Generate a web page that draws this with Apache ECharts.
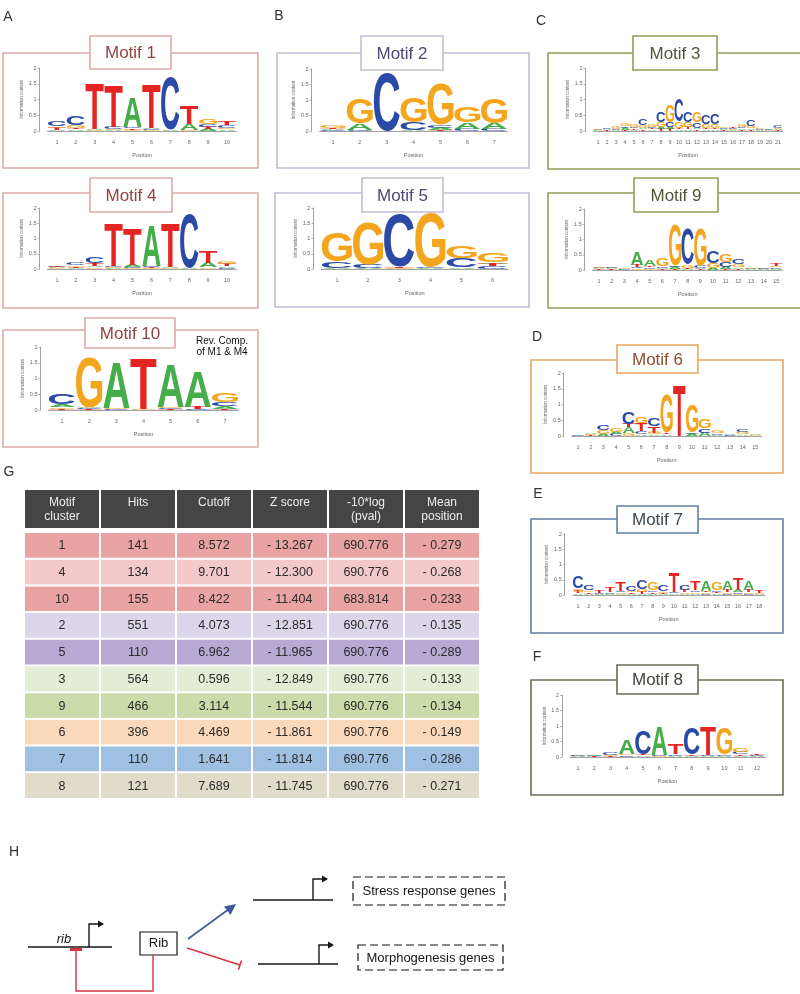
<!DOCTYPE html>
<html>
<head>
<meta charset="utf-8">
<script src="https://cdn.jsdelivr.net/npm/echarts@6/dist/echarts.min.js"></script>
<style>
html, body { margin: 0; padding: 0; background: #fff; }
#chart { width: 800px; height: 994px; }
</style>
</head>
<body>
<div id="chart"></div>
<script>
const LETTERS = ['A', 'C', 'G', 'T']
const LETTER_COLORS = { A: '#45ae4a', C: '#2b49a6', G: '#f4a51e', T: '#e42521' }

// sequence logo columns, bottom -> top, [letter, bits]
const motif1 = [
  [['A', 0.04], ['T', 0.06], ['G', 0.05], ['C', 0.15]],
  [['A', 0.05], ['T', 0.05], ['G', 0.08], ['C', 0.3]],
  [['G', 0.03], ['A', 0.04], ['T', 1.45]],
  [['A', 0.03], ['G', 0.03], ['C', 0.06], ['T', 1.3]],
  [['G', 0.03], ['T', 0.05], ['C', 0.04], ['A', 0.95]],
  [['G', 0.03], ['C', 0.03], ['A', 0.03], ['T', 1.38]],
  [['A', 0.05], ['C', 1.65]],
  [['G', 0.03], ['A', 0.2], ['T', 0.58]],
  [['A', 0.06], ['T', 0.06], ['C', 0.1], ['G', 0.16]],
  [['A', 0.05], ['G', 0.05], ['C', 0.08], ['T', 0.12]]
]
const motif4 = [
  [['G', 0.02], ['A', 0.03], ['C', 0.03], ['T', 0.03]],
  [['A', 0.03], ['T', 0.05], ['G', 0.04], ['C', 0.1]],
  [['G', 0.05], ['A', 0.04], ['T', 0.1], ['C', 0.22]],
  [['A', 0.03], ['G', 0.03], ['C', 0.04], ['T', 1.42]],
  [['G', 0.03], ['C', 0.03], ['A', 0.06], ['T', 1.2]],
  [['G', 0.03], ['T', 0.03], ['C', 0.04], ['A', 1.3]],
  [['G', 0.03], ['A', 0.04], ['T', 1.45]],
  [['A', 0.04], ['C', 1.78]],
  [['G', 0.05], ['A', 0.15], ['T', 0.38]],
  [['C', 0.04], ['A', 0.05], ['T', 0.06], ['G', 0.1]]
]
const motif10 = [
  [['T', 0.04], ['G', 0.05], ['A', 0.08], ['C', 0.34]],
  [['T', 0.02], ['C', 0.03], ['A', 0.03], ['G', 1.57]],
  [['C', 0.03], ['G', 0.04], ['A', 1.46]],
  [['G', 0.03], ['T', 1.6]],
  [['T', 0.02], ['C', 0.03], ['G', 0.04], ['A', 1.35]],
  [['C', 0.03], ['T', 0.06], ['A', 1.12]],
  [['T', 0.04], ['A', 0.08], ['C', 0.12], ['G', 0.3]]
]
const motif2 = [
  [['C', 0.03], ['A', 0.04], ['T', 0.04], ['G', 0.06]],
  [['C', 0.04], ['A', 0.2], ['G', 0.82]],
  [['C', 1.85]],
  [['A', 0.04], ['C', 0.25], ['G', 0.82]],
  [['T', 0.03], ['A', 0.08], ['C', 0.1], ['G', 1.3]],
  [['C', 0.08], ['A', 0.2], ['G', 0.52]],
  [['C', 0.06], ['A', 0.2], ['G', 0.82]]
]
const motif5 = [
  [['A', 0.03], ['C', 0.22], ['G', 0.95]],
  [['A', 0.03], ['C', 0.13], ['G', 1.38]],
  [['G', 0.03], ['T', 0.03], ['C', 1.72]],
  [['A', 0.03], ['C', 0.03], ['G', 1.78]],
  [['A', 0.05], ['C', 0.3], ['G', 0.37]],
  [['C', 0.1], ['T', 0.08], ['A', 0.04], ['G', 0.3]]
]
const motif3 = [
  [['A', 0.02], ['C', 0.02], ['G', 0.03]],
  [['T', 0.02], ['A', 0.03], ['C', 0.05]],
  [['A', 0.03], ['C', 0.03], ['G', 0.06]],
  [['T', 0.04], ['A', 0.06], ['C', 0.05], ['G', 0.1]],
  [['A', 0.04], ['T', 0.04], ['C', 0.04], ['G', 0.06]],
  [['T', 0.05], ['A', 0.05], ['G', 0.08], ['C', 0.2]],
  [['A', 0.05], ['T', 0.04], ['C', 0.05], ['G', 0.08]],
  [['T', 0.06], ['A', 0.07], ['G', 0.15], ['C', 0.34]],
  [['T', 0.06], ['A', 0.06], ['C', 0.15], ['G', 0.52]],
  [['A', 0.05], ['T', 0.04], ['G', 0.22], ['C', 0.72]],
  [['A', 0.05], ['T', 0.07], ['G', 0.15], ['C', 0.35]],
  [['T', 0.05], ['A', 0.05], ['C', 0.18], ['G', 0.32]],
  [['A', 0.05], ['T', 0.05], ['G', 0.12], ['C', 0.3]],
  [['A', 0.05], ['T', 0.04], ['G', 0.12], ['C', 0.32]],
  [['T', 0.03], ['A', 0.04], ['C', 0.04], ['G', 0.05]],
  [['A', 0.02], ['G', 0.03], ['C', 0.04], ['T', 0.03]],
  [['T', 0.03], ['A', 0.05], ['C', 0.05], ['G', 0.07]],
  [['T', 0.04], ['A', 0.05], ['G', 0.08], ['C', 0.2]],
  [['A', 0.03], ['C', 0.04], ['G', 0.05]],
  [['G', 0.02], ['C', 0.02], ['A', 0.02]],
  [['T', 0.02], ['A', 0.03], ['G', 0.04], ['C', 0.06]]
]
const motif9 = [
  [['T', 0.02], ['A', 0.03], ['C', 0.03], ['G', 0.03]],
  [['T', 0.02], ['A', 0.03], ['G', 0.03], ['C', 0.04]],
  [['A', 0.01], ['C', 0.02], ['G', 0.02]],
  [['G', 0.05], ['C', 0.05], ['T', 0.08], ['A', 0.42]],
  [['G', 0.04], ['C', 0.05], ['T', 0.05], ['A', 0.2]],
  [['T', 0.03], ['A', 0.05], ['C', 0.06], ['G', 0.24]],
  [['T', 0.03], ['A', 0.06], ['C', 0.06], ['G', 1.32]],
  [['A', 0.04], ['T', 0.04], ['G', 0.1], ['C', 1.15]],
  [['T', 0.03], ['A', 0.04], ['C', 0.08], ['G', 1.2]],
  [['A', 0.06], ['G', 0.15], ['C', 0.38]],
  [['T', 0.04], ['A', 0.06], ['C', 0.15], ['G', 0.27]],
  [['T', 0.04], ['A', 0.05], ['G', 0.1], ['C', 0.15]],
  [['A', 0.02], ['C', 0.02], ['G', 0.03]],
  [['A', 0.02], ['G', 0.02], ['C', 0.03]],
  [['A', 0.04], ['C', 0.05], ['G', 0.04], ['T', 0.08]]
]
const motif6 = [
  [['A', 0.01], ['C', 0.02]],
  [['T', 0.02], ['G', 0.03], ['A', 0.03]],
  [['A', 0.06], ['G', 0.12], ['C', 0.15]],
  [['C', 0.06], ['A', 0.08], ['G', 0.12]],
  [['G', 0.08], ['A', 0.2], ['T', 0.1], ['C', 0.38]],
  [['A', 0.05], ['C', 0.1], ['T', 0.25], ['G', 0.22]],
  [['A', 0.05], ['G', 0.06], ['T', 0.2], ['C', 0.25]],
  [['A', 0.05], ['T', 0.05], ['G', 1.22]],
  [['T', 1.62]],
  [['A', 0.06], ['C', 0.04], ['G', 0.88]],
  [['A', 0.1], ['C', 0.14], ['G', 0.28]],
  [['A', 0.04], ['C', 0.05], ['G', 0.08]],
  [['C', 0.02], ['A', 0.03]],
  [['A', 0.05], ['G', 0.06], ['C', 0.1]],
  [['G', 0.02], ['A', 0.03]]
]
const motif7 = [
  [['A', 0.05], ['T', 0.06], ['G', 0.1], ['C', 0.38]],
  [['A', 0.04], ['T', 0.05], ['G', 0.06], ['C', 0.18]],
  [['A', 0.03], ['C', 0.03], ['T', 0.06]],
  [['A', 0.04], ['C', 0.05], ['T', 0.18]],
  [['G', 0.04], ['A', 0.05], ['C', 0.05], ['T', 0.28]],
  [['A', 0.04], ['T', 0.05], ['G', 0.05], ['C', 0.16]],
  [['A', 0.04], ['T', 0.06], ['G', 0.1], ['C', 0.3]],
  [['A', 0.04], ['T', 0.05], ['C', 0.06], ['G', 0.25]],
  [['A', 0.04], ['T', 0.04], ['G', 0.06], ['C', 0.2]],
  [['A', 0.05], ['C', 0.06], ['T', 0.62]],
  [['A', 0.04], ['G', 0.05], ['T', 0.06], ['C', 0.18]],
  [['A', 0.04], ['G', 0.05], ['C', 0.06], ['T', 0.3]],
  [['C', 0.04], ['G', 0.05], ['T', 0.05], ['A', 0.35]],
  [['A', 0.05], ['T', 0.05], ['C', 0.06], ['G', 0.24]],
  [['C', 0.04], ['G', 0.05], ['T', 0.06], ['A', 0.3]],
  [['G', 0.04], ['C', 0.05], ['A', 0.06], ['T', 0.4]],
  [['C', 0.04], ['G', 0.05], ['T', 0.06], ['A', 0.3]],
  [['A', 0.03], ['G', 0.03], ['T', 0.08]]
]
const motif8 = [
  [['A', 0.02], ['G', 0.02], ['C', 0.03]],
  [['T', 0.02], ['C', 0.02], ['A', 0.03]],
  [['T', 0.03], ['G', 0.04], ['C', 0.06]],
  [['C', 0.05], ['G', 0.05], ['A', 0.45]],
  [['A', 0.05], ['T', 0.04], ['C', 0.78]],
  [['G', 0.04], ['C', 0.04], ['A', 0.9]],
  [['A', 0.04], ['C', 0.05], ['T', 0.35]],
  [['A', 0.04], ['T', 0.04], ['C', 0.85]],
  [['A', 0.04], ['C', 0.03], ['T', 0.9]],
  [['A', 0.04], ['C', 0.04], ['G', 0.85]],
  [['A', 0.04], ['T', 0.05], ['C', 0.08], ['G', 0.12]],
  [['A', 0.03], ['C', 0.03], ['T', 0.05]]
]

// table G
const tableHeader = ['Motif\ncluster', 'Hits', 'Cutoff', 'Z score', '-10*log\n(pval)', 'Mean\nposition']
const clusters = ['1', '4', '10', '2', '5', '3', '9', '6', '7', '8']
const hits = ['141', '134', '155', '551', '110', '564', '466', '396', '110', '121']
const cutoffs = ['8.572', '9.701', '8.422', '4.073', '6.962', '0.596', '3.114', '4.469', '1.641', '7.689']
const zScores = ['- 13.267', '- 12.300', '- 11.404', '- 12.851', '- 11.965', '- 12.849', '- 11.544', '- 11.861', '- 11.814', '- 11.745']
const logPvals = ['690.776', '690.776', '683.814', '690.776', '690.776', '690.776', '690.776', '690.776', '690.776', '690.776']
const meanPos = ['- 0.279', '- 0.268', '- 0.233', '- 0.135', '- 0.289', '- 0.133', '- 0.134', '- 0.149', '- 0.286', '- 0.271']
const rowColors = ['#e9a3a2', '#f3c9c9', '#e9a3a2', '#dcd6ea', '#b6aad4', '#e3edd5', '#c9dca9', '#fcd9bb', '#9fc0e3', '#dfdcc9']

const FONT = '"Liberation Sans", Arial, sans-serif'
const LOGO_FONT = 'bold 100px ' + FONT

// glyph bounds, so that each letter can be stretched into its box
const mctx = document.createElement('canvas').getContext('2d')
mctx.font = LOGO_FONT
mctx.textAlign = 'center'
mctx.textBaseline = 'middle'
const glyph = {}
LETTERS.forEach(function (l) {
  const m = mctx.measureText(l)
  glyph[l] = { l: m.actualBoundingBoxLeft, r: m.actualBoundingBoxRight, a: m.actualBoundingBoxAscent, d: m.actualBoundingBoxDescent }
})

// panel layout: plot area of each logo
const panels = [
  { data: motif1, left: 47.5, top: 68, width: 189, height: 63 },
  { data: motif4, left: 47.5, top: 208, width: 189, height: 61 },
  { data: motif10, left: 48.5, top: 347, width: 190, height: 63 },
  { data: motif2, left: 319.6, top: 69, width: 188, height: 62 },
  { data: motif5, left: 321.4, top: 208, width: 187, height: 61 },
  { data: motif3, left: 593.5, top: 68, width: 189, height: 63 },
  { data: motif9, left: 592.7, top: 209, width: 190, height: 61 },
  { data: motif6, left: 571.7, top: 373, width: 190, height: 63 },
  { data: motif7, left: 572.7, top: 534, width: 192, height: 61 },
  { data: motif8, left: 570, top: 695, width: 195, height: 62 }
]

function stackLogo (cols) {
  const out = []
  cols.forEach(function (col, i) {
    let base = 0
    col.forEach(function (item) {
      out.push([i, base, base + item[1], LETTERS.indexOf(item[0])])
      base += item[1]
    })
  })
  return out
}

function renderLetter (params, api) {
  const letter = LETTERS[api.value(3)]
  const g = glyph[letter]
  const bottom = api.coord([api.value(0), api.value(1)])
  const top = api.coord([api.value(0), api.value(2)])
  const w = api.size([1, 0])[0] * 0.97
  const h = bottom[1] - top[1]
  if (h < 0.2) return null
  const sx = w / (g.l + g.r)
  const sy = h / (g.a + g.d)
  return {
    type: 'text',
    x: bottom[0] - w / 2 + g.l * sx,
    y: top[1] + g.a * sy,
    scaleX: sx,
    scaleY: sy,
    silent: true,
    style: { text: letter, font: LOGO_FONT, fill: LETTER_COLORS[letter], align: 'center', verticalAlign: 'middle' }
  }
}

const axisGrey = '#8a8a8a'
const grids = []
const xAxes = []
const yAxes = []
const series = []

panels.forEach(function (p, i) {
  const cats = p.data.map(function (c, k) { return String(k + 1) })
  grids.push({ left: p.left, top: p.top, width: p.width, height: p.height, outerBoundsMode: 'none' })
  xAxes.push({
    gridIndex: i,
    type: 'category',
    data: cats,
    offset: 4,
    name: 'Position',
    nameLocation: 'middle',
    nameGap: 17,
    nameTextStyle: { fontSize: 5.5, color: '#666', fontFamily: FONT },
    axisLine: { lineStyle: { color: axisGrey, width: 0.8 } },
    axisTick: { alignWithLabel: true, length: 2, lineStyle: { color: axisGrey, width: 0.6 } },
    axisLabel: { interval: 0, fontSize: 5.5, color: '#666', margin: 4, fontFamily: FONT }
  })
  yAxes.push({
    gridIndex: i,
    type: 'value',
    min: 0,
    max: 2,
    interval: 0.5,
    offset: 8,
    name: 'Information content',
    nameLocation: 'middle',
    nameGap: 15,
    nameTextStyle: { fontSize: 4.5, color: '#666', fontFamily: FONT },
    splitLine: { show: false },
    axisLine: { show: true, lineStyle: { color: axisGrey, width: 0.8 } },
    axisTick: { show: true, length: 2, lineStyle: { color: axisGrey, width: 0.6 } },
    axisLabel: { fontSize: 5.5, color: '#666', margin: 3, fontFamily: FONT }
  })
  series.push({
    type: 'custom',
    xAxisIndex: i,
    yAxisIndex: i,
    data: stackLogo(p.data),
    encode: { x: 0, y: [1, 2] },
    renderItem: renderLetter,
    clip: false,
    silent: true
  })
})

// table grids
const hIdx = grids.length
grids.push({ left: 24, top: 490, width: 456, height: 38, outerBoundsMode: 'none' })
grids.push({ left: 24, top: 532, width: 456, height: 267, outerBoundsMode: 'none' })
const colIdx = tableHeader.map(function (t, k) { return k })
xAxes.push({ gridIndex: hIdx, type: 'category', data: colIdx, show: false })
yAxes.push({ gridIndex: hIdx, type: 'category', data: ['h'], show: false })
xAxes.push({ gridIndex: hIdx + 1, type: 'category', data: colIdx, show: false })
yAxes.push({ gridIndex: hIdx + 1, type: 'category', data: clusters.map(function (c, k) { return k }), inverse: true, show: false })

const columns = [clusters, hits, cutoffs, zScores, logPvals, meanPos]
const headerCells = tableHeader.map(function (t, k) { return [k, 0] })
const bodyCells = []
clusters.forEach(function (c, r) {
  columns.forEach(function (col, k) { bodyCells.push([k, r]) })
})

series.push({
  type: 'custom',
  xAxisIndex: hIdx,
  yAxisIndex: hIdx,
  data: headerCells,
  silent: true,
  renderItem: function (params, api) {
    const c = api.coord([api.value(0), api.value(1)])
    const s = api.size([1, 1])
    return {
      type: 'group',
      children: [
        { type: 'rect', shape: { x: c[0] - s[0] / 2 + 1, y: c[1] - s[1] / 2, width: s[0] - 2, height: s[1] }, style: { fill: '#454545' } },
        { type: 'text', x: c[0], y: c[1] - s[1] / 2 + 6, style: { text: tableHeader[api.value(0)], fill: '#ececec', font: '12px ' + FONT, align: 'center', verticalAlign: 'top', lineHeight: 14 } }
      ]
    }
  }
})

series.push({
  type: 'custom',
  xAxisIndex: hIdx + 1,
  yAxisIndex: hIdx + 1,
  data: bodyCells,
  silent: true,
  renderItem: function (params, api) {
    const k = api.value(0)
    const r = api.value(1)
    const c = api.coord([k, r])
    const s = api.size([1, 1])
    return {
      type: 'group',
      children: [
        { type: 'rect', shape: { x: c[0] - s[0] / 2 + 1, y: c[1] - s[1] / 2 + 1, width: s[0] - 2, height: s[1] - 2 }, style: { fill: rowColors[r] } },
        { type: 'text', x: c[0], y: c[1] + 0.5, style: { text: columns[k][r], fill: '#2a2a2a', font: '12.5px ' + FONT, align: 'center', verticalAlign: 'middle' } }
      ]
    }
  }
})

// decorations: panel frames, titles, labels, panel H diagram
const frames = [
  { x: 3, y: 53, w: 255, h: 115, stroke: '#dcaaa9' },
  { x: 3, y: 193, w: 255, h: 115, stroke: '#dcaaa9' },
  { x: 3, y: 330, w: 255, h: 117, stroke: '#dcaaa9' },
  { x: 277, y: 53, w: 252, h: 115, stroke: '#c2bcd6' },
  { x: 275, y: 193, w: 254, h: 114, stroke: '#c2bcd6' },
  { x: 548, y: 53, w: 260, h: 116, stroke: '#8fa155' },
  { x: 548, y: 193, w: 260, h: 115, stroke: '#8fa155' },
  { x: 531, y: 360, w: 252, h: 113, stroke: '#e9a55f' },
  { x: 531, y: 519, w: 252, h: 114, stroke: '#5f7fa6' },
  { x: 531, y: 680, w: 252, h: 115, stroke: '#6d6b55' }
]
const titles = [
  { text: 'Motif 1', x: 90, y: 36, w: 81, h: 33, stroke: '#dcaaa9', color: '#94423f' },
  { text: 'Motif 4', x: 90, y: 178, w: 82, h: 34, stroke: '#dcaaa9', color: '#94423f' },
  { text: 'Motif 10', x: 85, y: 318, w: 90, h: 30, stroke: '#dcaaa9', color: '#94423f' },
  { text: 'Motif 2', x: 361, y: 36, w: 82, h: 34, stroke: '#c2bcd6', color: '#514576' },
  { text: 'Motif 5', x: 362, y: 178, w: 81, h: 34, stroke: '#c2bcd6', color: '#514576' },
  { text: 'Motif 3', x: 633, y: 36, w: 84, h: 34, stroke: '#8fa155', color: '#4f5636' },
  { text: 'Motif 9', x: 634, y: 178, w: 84, h: 34, stroke: '#8fa155', color: '#4f5636' },
  { text: 'Motif 6', x: 617, y: 345, w: 81, h: 28, stroke: '#e9a55f', color: '#8e4d2c' },
  { text: 'Motif 7', x: 617, y: 506, w: 81, h: 27, stroke: '#5f7fa6', color: '#3c4658' },
  { text: 'Motif 8', x: 617, y: 665, w: 81, h: 29, stroke: '#6d6b55', color: '#45443a' }
]
const panelLabels = [['A', 8, 17], ['B', 279, 16], ['C', 541, 21], ['D', 537, 337], ['E', 538, 494], ['F', 537, 657], ['G', 9, 472], ['H', 14, 852]]

const graphics = []
frames.forEach(function (f) {
  graphics.push({ type: 'rect', z: 0, silent: true, shape: { x: f.x, y: f.y, width: f.w, height: f.h }, style: { fill: null, stroke: f.stroke, lineWidth: 1.6 } })
})
titles.forEach(function (t) {
  graphics.push({ type: 'rect', z: 10, silent: true, shape: { x: t.x, y: t.y, width: t.w, height: t.h }, style: { fill: '#fff', stroke: t.stroke, lineWidth: 1.6 } })
  graphics.push({ type: 'text', z: 11, silent: true, x: t.x + t.w / 2, y: t.y + t.h / 2 + 1, style: { text: t.text, fill: t.color, font: '17px ' + FONT, align: 'center', verticalAlign: 'middle' } })
})
panelLabels.forEach(function (l) {
  graphics.push({ type: 'text', silent: true, x: l[1], y: l[2], style: { text: l[0], fill: '#333', font: '14px ' + FONT, align: 'center', verticalAlign: 'middle' } })
})
graphics.push({ type: 'text', z: 11, silent: true, x: 222, y: 341.5, style: { text: 'Rev. Comp.', fill: '#111', font: '10px ' + FONT, align: 'center', verticalAlign: 'middle' } })
graphics.push({ type: 'text', z: 11, silent: true, x: 222, y: 352.5, style: { text: 'of M1 & M4', fill: '#111', font: '10px ' + FONT, align: 'center', verticalAlign: 'middle' } })

// panel H
const ink = '#161616'
const blue = '#40599b'
const red = '#d5343f'
function promoter (x, y, top) {
  graphics.push({ type: 'polyline', silent: true, shape: { points: [[x, y], [x, top], [x + 10, top]] }, style: { stroke: ink, lineWidth: 1.4, fill: null } })
  graphics.push({ type: 'polygon', silent: true, shape: { points: [[x + 9, top - 3.5], [x + 15, top], [x + 9, top + 3.5]] }, style: { fill: ink } })
}
graphics.push({ type: 'line', silent: true, shape: { x1: 28, y1: 947, x2: 112, y2: 947 }, style: { stroke: ink, lineWidth: 1.4 } })
promoter(89, 947, 924)
graphics.push({ type: 'text', silent: true, x: 64, y: 939, style: { text: 'rib', fill: ink, font: 'italic 13px ' + FONT, align: 'center', verticalAlign: 'middle' } })
graphics.push({ type: 'rect', silent: true, shape: { x: 140, y: 932, width: 37, height: 23 }, style: { fill: '#fff', stroke: ink, lineWidth: 1.2 } })
graphics.push({ type: 'text', silent: true, x: 158.5, y: 943.5, style: { text: 'Rib', fill: ink, font: '13px ' + FONT, align: 'center', verticalAlign: 'middle' } })
// feedback repression
graphics.push({ type: 'polyline', silent: true, shape: { points: [[153, 955], [153, 991], [76, 991], [76, 950]] }, style: { stroke: red, lineWidth: 1.4, fill: null } })
graphics.push({ type: 'line', silent: true, shape: { x1: 70, y1: 949.5, x2: 82, y2: 949.5 }, style: { stroke: red, lineWidth: 3 } })
// activation arrow
graphics.push({ type: 'line', silent: true, shape: { x1: 188, y1: 939, x2: 229, y2: 909 }, style: { stroke: blue, lineWidth: 1.6 } })
graphics.push({ type: 'polygon', silent: true, shape: { points: [[236, 904], [224, 906.5], [230.5, 915]] }, style: { fill: blue } })
// repression line
graphics.push({ type: 'line', silent: true, shape: { x1: 187, y1: 948, x2: 240, y2: 965 }, style: { stroke: red, lineWidth: 1.4 } })
graphics.push({ type: 'line', silent: true, shape: { x1: 241.5, y1: 960.5, x2: 238.5, y2: 969.5 }, style: { stroke: red, lineWidth: 1.6 } })
// target genes
graphics.push({ type: 'line', silent: true, shape: { x1: 253, y1: 900, x2: 333, y2: 900 }, style: { stroke: ink, lineWidth: 1.4 } })
promoter(313, 900, 879)
graphics.push({ type: 'line', silent: true, shape: { x1: 258, y1: 964, x2: 338, y2: 964 }, style: { stroke: ink, lineWidth: 1.4 } })
promoter(319, 964, 945)
graphics.push({ type: 'rect', silent: true, shape: { x: 353, y: 877, width: 152, height: 28 }, style: { fill: null, stroke: ink, lineWidth: 1.2, lineDash: [8, 4] } })
graphics.push({ type: 'text', silent: true, x: 429, y: 891.5, style: { text: 'Stress response genes', fill: ink, font: '13px ' + FONT, align: 'center', verticalAlign: 'middle' } })
graphics.push({ type: 'rect', silent: true, shape: { x: 358, y: 945, width: 145, height: 25 }, style: { fill: null, stroke: ink, lineWidth: 1.2, lineDash: [8, 4] } })
graphics.push({ type: 'text', silent: true, x: 430.5, y: 958, style: { text: 'Morphogenesis genes', fill: ink, font: '13px ' + FONT, align: 'center', verticalAlign: 'middle' } })

const chart = echarts.init(document.getElementById('chart'))
chart.setOption({
  backgroundColor: '#fff',
  animation: false,
  textStyle: { fontFamily: FONT },
  grid: grids,
  xAxis: xAxes,
  yAxis: yAxes,
  series: series,
  graphic: { elements: graphics }
})
</script>
</body>
</html>
